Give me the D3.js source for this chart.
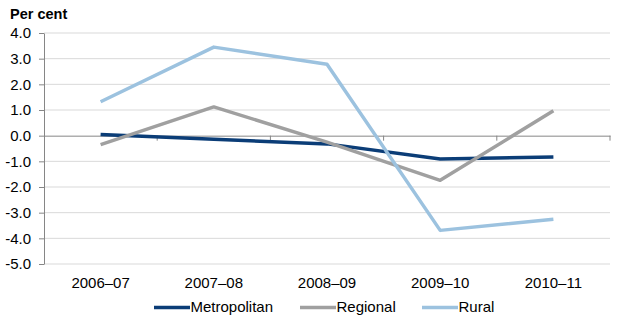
<!DOCTYPE html>
<html>
<head>
<meta charset="utf-8">
<script src="https://cdn.jsdelivr.net/npm/d3@7"></script>
<style>
  html, body { margin: 0; padding: 0; background: #fff; }
  svg { display: block; font-family: Arial, "Liberation Sans", sans-serif; }
</style>
</head>
<body>
<svg id="chart" width="621" height="322"></svg>
<script>
// Annual change by area, per cent
const categories = ["2006–07", "2007–08", "2008–09", "2009–10", "2010–11"];
const metropolitan = [0.05, -0.14, -0.32, -0.91, -0.83];
const regional = [-0.35, 1.12, -0.25, -1.74, 0.97];
const rural = [1.32, 3.45, 2.78, -3.69, -3.26];
const yTicks = [4, 3, 2, 1, 0, -1, -2, -3, -4, -5];
const seriesNames = ["Metropolitan", "Regional", "Rural"];
const seriesColors = ["#0b3d77", "#a0a0a0", "#9cc2df"];

const series = seriesNames.map((name, i) => ({
  name,
  color: seriesColors[i],
  values: [metropolitan, regional, rural][i]
}));

const svg = d3.select("#chart");
const plot = { left: 44, right: 610, top: 33, bottom: 264 };
const fontSize = 15;

const x = d3.scaleBand().domain(categories).range([plot.left, plot.right]);
const y = d3.scaleLinear().domain([-5, 4]).range([plot.bottom, plot.top]);

// Horizontal gridlines
svg.append("g").selectAll("line")
  .data(yTicks.filter(d => d !== 0))
  .join("line")
  .attr("x1", plot.left).attr("x2", plot.right)
  .attr("y1", d => y(d)).attr("y2", d => y(d))
  .attr("stroke", "#d9d9d9").attr("stroke-width", 1);

// Y axis
const yAxis = svg.append("g")
  .attr("transform", `translate(${plot.left},0)`)
  .call(d3.axisLeft(y).tickValues(yTicks).tickFormat(d3.format(".1f")).tickSizeInner(5).tickSizeOuter(0).tickPadding(8));
yAxis.select(".domain").attr("stroke", "#868686");
yAxis.selectAll(".tick line").attr("stroke", "#868686");
yAxis.selectAll(".tick text").attr("font-size", fontSize).attr("fill", "#000")
  .attr("x", -13)
  .text(d => d3.format(".1f")(d).replace("−", "-"));

// Category axis along zero
const xAxis = svg.append("g")
  .attr("transform", `translate(0,${y(0)})`)
  .call(d3.axisBottom(x).tickValues([]).tickSizeOuter(0));
xAxis.select(".domain").attr("stroke", "#868686");
const bounds = categories.map(c => x(c) + x.bandwidth());
xAxis.selectAll(".sep").data(bounds).join("line")
  .attr("class", "sep")
  .attr("x1", d => d).attr("x2", d => d)
  .attr("y1", 0).attr("y2", 5)
  .attr("stroke", "#868686");

// Category labels below plot
svg.append("g").selectAll("text")
  .data(categories)
  .join("text")
  .attr("x", d => x(d) + x.bandwidth() / 2)
  .attr("y", 288)
  .attr("text-anchor", "middle")
  .attr("font-size", fontSize)
  .attr("fill", "#000")
  .text(d => d);

// Y title
svg.append("text")
  .attr("x", 10).attr("y", 18.5)
  .attr("font-size", 14.5).attr("font-weight", "bold")
  .attr("fill", "#000")
  .text("Per cent");

// Lines
const line = d3.line()
  .x((d, i) => x(categories[i]) + x.bandwidth() / 2)
  .y(d => y(d));

svg.append("g").selectAll("path")
  .data(series)
  .join("path")
  .attr("d", d => line(d.values))
  .attr("fill", "none")
  .attr("stroke", d => d.color)
  .attr("stroke-width", 3.5)
  .attr("stroke-linejoin", "round");

// Legend
const legendX = [154, 300, 422];
const legend = svg.append("g").selectAll("g")
  .data(series)
  .join("g")
  .attr("transform", (d, i) => `translate(${legendX[i]},312)`);
legend.append("line")
  .attr("x1", 0).attr("x2", 36)
  .attr("y1", -4.5).attr("y2", -4.5)
  .attr("stroke", d => d.color)
  .attr("stroke-width", 3.5);
legend.append("text")
  .attr("x", 36.5).attr("y", 0)
  .attr("font-size", fontSize)
  .attr("fill", "#000")
  .text(d => d.name);
</script>
</body>
</html>
